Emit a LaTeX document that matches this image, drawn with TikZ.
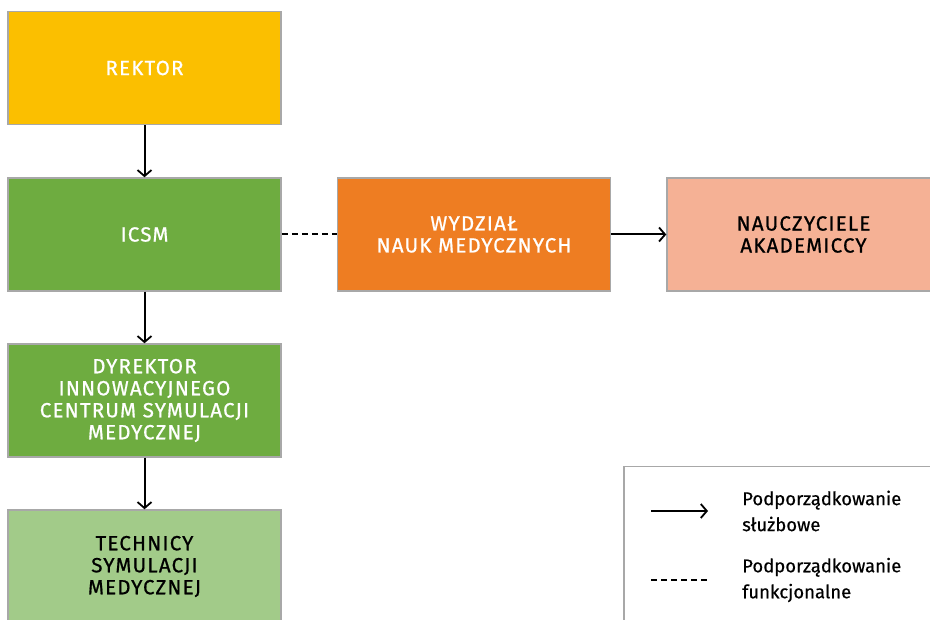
\documentclass[tikz,border=0pt]{standalone}
\usepackage{fontspec}
\usetikzlibrary{arrows.meta}
\newfontfamily\boxfont[LetterSpace=6,FakeBold=0.8]{Fira Sans}
\newfontfamily\legfont[FakeBold=0.5]{Fira Sans}
\definecolor{cyellow}{HTML}{FBBF00}
\definecolor{cgreen}{HTML}{6EAC40}
\definecolor{corange}{HTML}{EE7D22}
\definecolor{csalmon}{HTML}{F5B195}
\definecolor{clgreen}{HTML}{A2CB89}
\definecolor{cborder}{HTML}{A8A8A8}
\tikzset{
  unitbox/.style={draw=cborder, line width=1.5pt, minimum width=273pt, minimum height=113pt,
    inner sep=0pt, align=center, font=\boxfont\fontsize{20.5}{22}\selectfont},
  darktext/.style={text=white},
  lighttext/.style={text=black},
  solidarrow/.style={line width=2pt, -{Straight Barb[length=6pt,width=14pt,line width=1.8pt]}},
  dashline/.style={line width=2pt, dash pattern=on 6pt off 4pt},
  legtext/.style={anchor=west, align=left, inner sep=0pt, font=\legfont\fontsize{18.5}{26}\selectfont}
}
\begin{document}
\begin{tikzpicture}[x=1pt,y=-1pt]
\useasboundingbox (0,0) rectangle (930,620);
\node[unitbox, darktext, fill=cyellow] (rektor) at (144.5,68) {REKTOR};
\node[unitbox, darktext, fill=cgreen] (icsm) at (144.5,234.5) {ICSM};
\node[unitbox, darktext, fill=corange] (wydzial) at (474,234.5) {WYDZIAŁ\\NAUK MEDYCZNYCH};
\node[unitbox, lighttext, fill=csalmon] (naucz) at (803.5,234.5) {NAUCZYCIELE\\AKADEMICCY};
\node[unitbox, darktext, fill=cgreen] (dyr) at (144.5,400.5) {DYREKTOR\\INNOWACYJNEGO\\CENTRUM SYMULACJI\\MEDYCZNEJ};
\node[unitbox, lighttext, fill=clgreen] (tech) at (144.5,566.5) {TECHNICY\\SYMULACJI\\MEDYCZNEJ};
\draw[solidarrow] (rektor) -- (icsm);
\draw[solidarrow] (icsm) -- (dyr);
\draw[solidarrow] (dyr) -- (tech);
\draw[dashline] (icsm) -- (wydzial);
\draw[solidarrow] (wydzial) -- (naucz);
% legend
\node[draw=cborder, line width=1.5pt, minimum width=320pt, minimum height=170pt, anchor=north west, inner sep=0pt] (legend) at (623,466) {};
\coordinate (la1) at (651,511);
\coordinate (la2) at (708,511);
\coordinate (ld1) at (651,580);
\coordinate (ld2) at (708,580);
\draw[solidarrow] (la1) -- (la2);
\draw[dashline] (ld1) -- (ld2);
\node[legtext] (l1) at (742,511) {Podporządkowanie\\służbowe};
\node[legtext] (l2) at (742,580) {Podporządkowanie\\funkcjonalne};
\end{tikzpicture}
\end{document}
